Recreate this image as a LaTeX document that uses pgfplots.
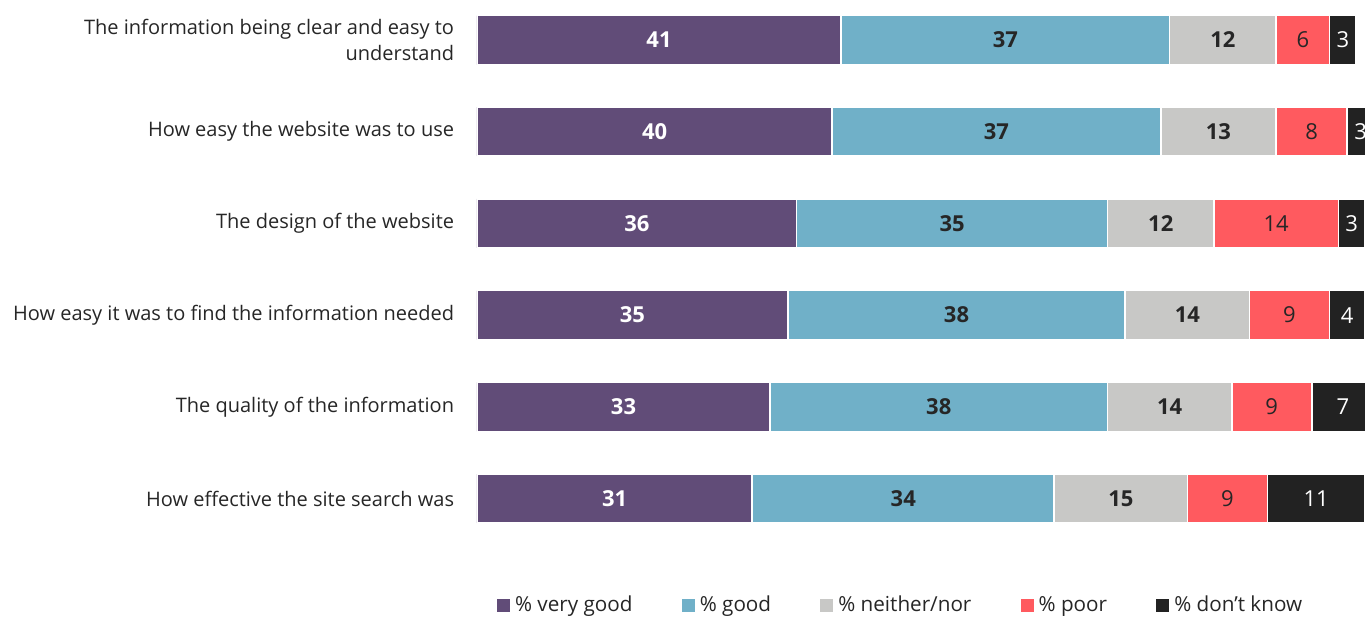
\documentclass[border=0pt]{standalone}
\usepackage{fontspec}
\setmainfont{Open Sans}
\usepackage{pgfplots}
\usepackage{pgfplotstable}
\pgfplotsset{compat=1.18}
\definecolor{cvg}{HTML}{614C78}
\definecolor{cg}{HTML}{70B0C8}
\definecolor{cnn}{HTML}{C8C8C6}
\definecolor{cp}{HTML}{FF5A5F}
\definecolor{cdk}{HTML}{222222}
\definecolor{ctext}{HTML}{262626}

\pgfplotstableread{
y vg g nn p dk
5 41 37 12 6 3
4 40 37 13 8 3
3 36 35 12 14 3
2 35 38 14 9 4
1 33 38 14 9 7
0 31 34 15 9 11
}\data

\pgfplotsset{
  frame/.style={
    at={(357.75pt,70.3pt)}, anchor=south west,
    scale only axis, width=666pt, height=381pt,
    xmin=0, xmax=100, ymin=-0.27, ymax=5.27,
  },
  seg/.style={fill=#1, draw=white, line width=1.2pt, forget plot},
  lab/.style n args={2}{draw=none, mark=none, forget plot, nodes near coords, point meta=explicit symbolic,
    every node near coord/.style={anchor=center, inner sep=0pt, text=#1, font=\fontsize{16.5}{19}\selectfont#2}},
  lsq/.style={legend image code/.code={\fill[#1] (0pt,-4.5pt) rectangle (9pt,4.5pt); \path (11pt,0pt);}},
}
\begin{document}
\begin{tikzpicture}
\begin{axis}[
  frame,
  xbar stacked, bar width=36.75pt,
  axis line style={draw=none}, tick style={draw=none},
  xtick=\empty,
  ytick={0,...,5},
  yticklabels={How effective the site search was, The quality of the information, How easy it was to find the information needed, The design of the website, How easy the website was to use, {The information being clear and easy to\\understand}},
  yticklabel style={align=right, anchor=east, inner sep=0pt, xshift=-17pt, font=\fontsize{15}{20}\selectfont, text=ctext},
  legend columns=5,
  legend style={at={(0.0225,-0.161)}, anchor=west, draw=none, inner sep=0pt, font=\fontsize{15.5}{18}\selectfont, text=ctext, /tikz/every even column/.append style={column sep=35pt}},
]
\addlegendimage{lsq=cvg}
\addlegendimage{lsq=cg}
\addlegendimage{lsq=cnn}
\addlegendimage{lsq=cp}
\addlegendimage{lsq=cdk}
\addplot[seg=cvg] table[x=vg, y=y] {\data};
\addplot[seg=cg] table[x=g, y=y] {\data};
\addplot[seg=cnn] table[x=nn, y=y] {\data};
\addplot[seg=cp] table[x=p, y=y] {\data};
\addplot[seg=cdk] table[x=dk, y=y] {\data};
\legend{\% very good, \% good, \% neither/nor, \% poor, \% don't know}
\end{axis}
\begin{axis}[frame, hide axis, clip=false]
\addplot[lab={white}{\bfseries}] table[x expr=\thisrow{vg}/2, y=y, meta=vg] {\data};
\addplot[lab={ctext}{\bfseries}] table[x expr=\thisrow{vg}+\thisrow{g}/2, y=y, meta=g] {\data};
\addplot[lab={ctext}{\bfseries}] table[x expr=\thisrow{vg}+\thisrow{g}+\thisrow{nn}/2, y=y, meta=nn] {\data};
\addplot[lab={ctext}{}] table[x expr=\thisrow{vg}+\thisrow{g}+\thisrow{nn}+\thisrow{p}/2, y=y, meta=p] {\data};
\addplot[lab={white}{}] table[x expr=\thisrow{vg}+\thisrow{g}+\thisrow{nn}+\thisrow{p}+\thisrow{dk}/2, y=y, meta=dk] {\data};
\end{axis}
\pgfresetboundingbox
\path[use as bounding box] (0,0) rectangle (1023.75pt,462.75pt);
\end{tikzpicture}
\end{document}
